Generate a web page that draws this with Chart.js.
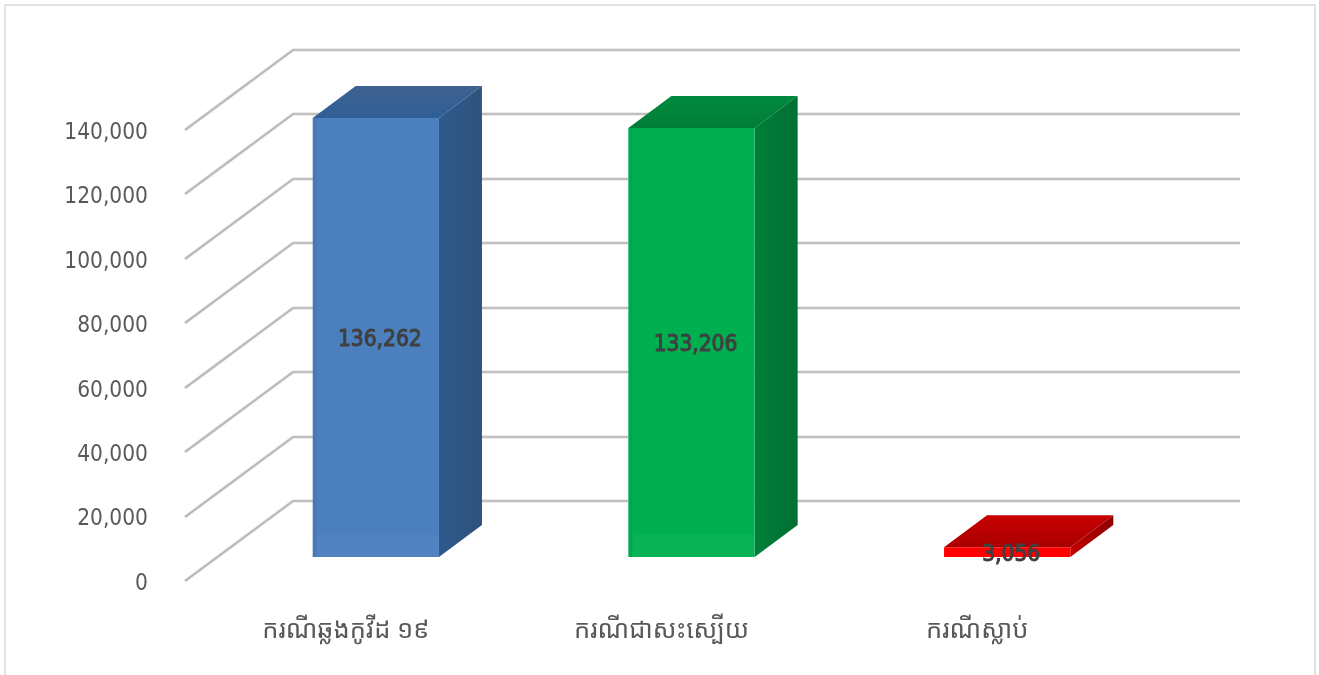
<!DOCTYPE html>
<html lang="km">
<head>
<meta charset="utf-8">
<title>COVID-19</title>
<script src="https://cdn.jsdelivr.net/npm/chart.js@4/dist/chart.umd.min.js"></script>
<style>
    html, body { margin: 0; padding: 0; background: #fff; overflow: hidden; }
    #wrap { position: relative; width: 1319px; height: 675px; }
    #frame { position: absolute; left: 4px; top: 4px; width: 1308px; height: 680px; border: 2px solid #e2e2e2; }
    canvas { position: absolute; left: 0; top: 0; }
</style>
</head>
<body>
<div id="wrap">
    <div id="frame"></div>
    <canvas id="chart" width="1319" height="675"></canvas>
</div>
<script>
const categories = ['ករណីឆ្លងកូវីដ ១៩', 'ករណីជាសះស្បើយ', 'ករណីស្លាប់'];
const values = [136262, 133206, 3056];
const frontColors = ['#4b7fbd', '#00b050', '#ff0000'];
const sideColors = [['#2d5a8e', '#30527c'], ['#007f39', '#006f32'], ['#c00000', '#8f0000']];
const topColors = [['#2f5f98', '#3f6290'], ['#007d38', '#008a3e'], ['#a80000', '#c80000']];

// depth of the fake 3D box, floor to back wall and front of bar to back of bar
const wallX = 108, wallY = 80;
const shiftX = 33, shiftY = 24;
const barX = 43, barY = 32;
// tick text sits a little high in this font, so the scale is 3px lower than the drawing
const labelDrop = 3;

const fontFamily = '"DejaVu Sans Condensed", "DejaVu Sans", sans-serif';

function face(ctx, colors, pts, x0, y0, x1, y1) {
    const g = ctx.createLinearGradient(x0, y0, x1, y1);
    g.addColorStop(0, colors[0]);
    g.addColorStop(1, colors[1]);
    ctx.fillStyle = g;
    ctx.beginPath();
    pts.forEach((p, i) => i ? ctx.lineTo(p[0], p[1]) : ctx.moveTo(p[0], p[1]));
    ctx.closePath();
    ctx.fill();
}

const box3d = {
    id: 'box3d',
    beforeDatasetsDraw(chart) {
        const { ctx, scales: { x, y } } = chart;
        ctx.save();
        y.ticks.forEach(t => {
            const py = Math.round(y.getPixelForValue(t.value)) - labelDrop;
            [[3.5, '#e6e6e6'], [1.6, '#b4b4b4']].forEach(([w, c]) => {
                ctx.strokeStyle = c;
                ctx.lineWidth = w;
                ctx.beginPath();
                ctx.moveTo(x.left, py);
                ctx.lineTo(x.left + wallX, py - wallY);
                ctx.lineTo(x.right + wallX, py - wallY);
                ctx.stroke();
            });
        });
        ctx.restore();

        // bars stand a bit behind the front edge of the floor
        ctx.save();
        ctx.translate(shiftX, -shiftY - labelDrop);
        chart.getDatasetMeta(0).data.forEach((bar, i) => {
            const l = bar.x - bar.width / 2, r = bar.x + bar.width / 2;
            face(ctx, topColors[i], [[l, bar.y], [l + barX, bar.y - barY], [r + barX, bar.y - barY], [r, bar.y]],
                0, bar.y, 0, bar.y - barY);
            face(ctx, sideColors[i], [[r, bar.y], [r + barX, bar.y - barY], [r + barX, bar.base - barY], [r, bar.base]],
                r, 0, r + barX, 0);
        });
    },
    afterDatasetsDraw(chart) {
        const { ctx } = chart;
        // soft bevel on the front of the tall bars
        chart.getDatasetMeta(0).data.forEach(bar => {
            const l = bar.x - bar.width / 2;
            const h = bar.base - bar.y;
            if (h < 40) return;
            ctx.fillStyle = 'rgba(0,0,0,0.04)';
            ctx.fillRect(l, bar.y, 4, h);
            ctx.fillStyle = 'rgba(255,255,255,0.03)';
            ctx.fillRect(l + 4, bar.base - 22, bar.width - 4, 22);
        });
        ctx.restore();

        ctx.save();
        ctx.textAlign = 'center';
        ctx.textBaseline = 'middle';
        ctx.font = '22.5px ' + fontFamily;
        ctx.fillStyle = '#404040';
        ctx.strokeStyle = '#404040';
        ctx.lineWidth = 1;
        chart.getDatasetMeta(0).data.forEach((bar, i) => {
            const text = values[i].toLocaleString('en-US');
            const tx = bar.x + shiftX + 4, ty = (bar.y + bar.base) / 2 - shiftY;
            ctx.fillText(text, tx, ty);
            ctx.strokeText(text, tx, ty);
        });
        ctx.restore();
    }
};

new Chart(document.getElementById('chart'), {
    type: 'bar',
    data: {
        labels: categories,
        datasets: [{
            data: values,
            backgroundColor: frontColors,
            barPercentage: 0.4,
            categoryPercentage: 1,
            clip: false
        }]
    },
    options: {
        responsive: false,
        animation: false,
        layout: { padding: { top: 130 + labelDrop, right: 187, left: 0, bottom: 0 } },
        plugins: { legend: { display: false }, tooltip: { enabled: false } },
        scales: {
            x: {
                grid: { display: false },
                border: { display: false },
                afterFit: s => { s.height = 94 - labelDrop; },
                ticks: {
                    color: '#595959',
                    padding: 23,
                    labelOffset: 3,
                    maxRotation: 0,
                    font: { family: '"Noto Sans Khmer", "Khmer OS", ' + fontFamily, size: 25.5 }
                }
            },
            y: {
                min: 0,
                max: 140000,
                grid: { display: false },
                border: { display: false },
                afterFit: s => { s.width = 185; },
                ticks: {
                    stepSize: 20000,
                    color: '#595959',
                    padding: 29,
                    callback: v => v.toLocaleString('en-US'),
                    font: { family: fontFamily, size: 22.5 }
                }
            }
        }
    },
    plugins: [box3d]
});
</script>
</body>
</html>
